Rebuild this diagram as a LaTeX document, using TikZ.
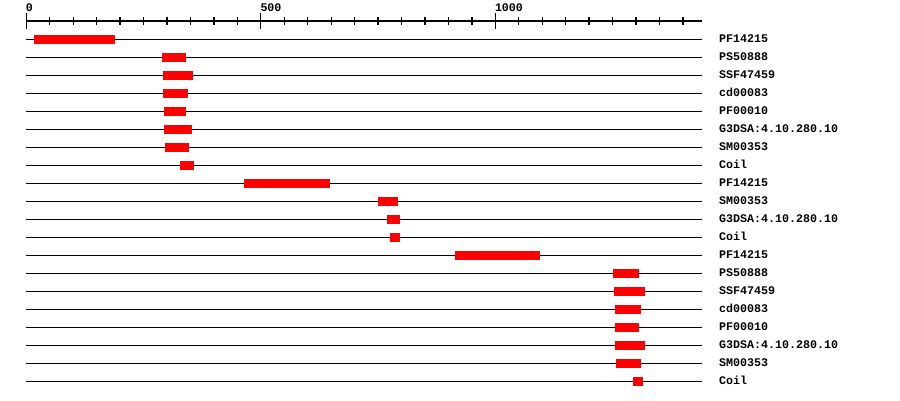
\documentclass[tikz,border=0pt]{standalone}
\usepackage{fontspec}
\newfontfamily\monob[BoldFont={Liberation Mono Bold}]{Liberation Mono}
\begin{document}
\begin{tikzpicture}[x=1bp,y=-1bp,
  trackline/.style={black,line width=1.3bp},
  domainbar/.style={fill=red,draw=none},
  trlabel/.style={anchor=west,inner sep=0pt,font=\monob\bfseries\fontsize{11.7}{12}\selectfont},
  axlabel/.style={anchor=south west,inner sep=0pt,font=\monob\bfseries\fontsize{11.7}{12}\selectfont},
  tickline/.style={black,line width=1.3bp}]
\useasboundingbox[fill=white] (0,0) rectangle (900,400);
% axis
\coordinate (axL) at (26.3,21);
\coordinate (axR) at (701.7,21);
\draw[tickline] (axL) -- (axR);
\foreach \i in {0,...,28}{
  \draw[tickline] (26.3+23.45*\i,17.3) -- (26.3+23.45*\i,24.7);
}
\foreach \i/\t in {0/0,10/500,20/1000}{
  \draw[tickline] (26.3+23.45*\i,13.3) -- (26.3+23.45*\i,29);
  \node[axlabel] (ax\i) at (26.3+23.45*\i-0.5,12.3) {\t};
}
% rows
\foreach \r/\lab/\a/\b in {
 0/PF14215/34/115,
 1/PS50888/162/186,
 2/SSF47459/163/193,
 3/cd00083/163/188,
 4/PF00010/164/186,
 5/G3DSA:4.10.280.10/164/192,
 6/SM00353/165/189,
 7/Coil/180/194,
 8/PF14215/244/330,
 9/SM00353/378/398,
 10/G3DSA:4.10.280.10/387/400,
 11/Coil/390/400,
 12/PF14215/455/540,
 13/PS50888/613/639,
 14/SSF47459/614/645,
 15/cd00083/615/641,
 16/PF00010/615/639,
 17/G3DSA:4.10.280.10/615/645,
 18/SM00353/616/641,
 19/Coil/633/643}{
  \coordinate (l\r) at (26.3,39.3+18*\r);
  \coordinate (r\r) at (701.7,39.3+18*\r);
  \draw[trackline] (l\r) -- (r\r);
  \fill[domainbar] (\a,34.8+18*\r) rectangle (\b,43.8+18*\r);
  \node[trlabel] (lab\r) at (719,38.6+18*\r) {\lab};
}
\end{tikzpicture}
\end{document}
